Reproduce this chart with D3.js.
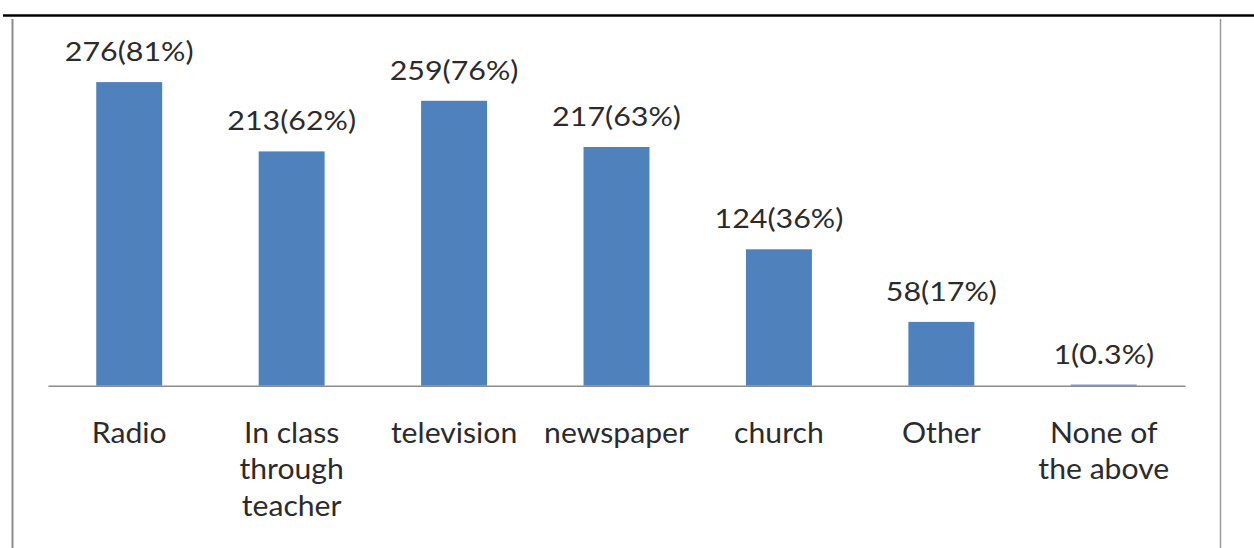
<!DOCTYPE html>
<html>
<head>
<meta charset="utf-8">
<script src="https://cdn.jsdelivr.net/npm/d3@7"></script>
<style>
  html, body { margin: 0; padding: 0; background: #fff; }
  svg { display: block; }
  text { font-family: Lato, "Open Sans", sans-serif; fill: #2b2b2b; }
</style>
</head>
<body>
<svg id="chart" width="1254" height="548"></svg>
<script>
// Sources of information reported by respondents
const categories = ["Radio", "In class\nthrough\nteacher", "television", "newspaper", "church", "Other", "None of\nthe above"];
const counts = [276, 213, 259, 217, 124, 58, 1];
const percents = [81, 62, 76, 63, 36, 17, 0.3];
const yDomain = [0, 300];

const svg = d3.select("#chart");
const W = 1254, H = 548;
const plot = { left: 48, right: 1185, top: 55.7, bottom: 385.7 };

// frame: heavy rule on top, thin grey rules at the sides
svg.append("line").attr("x1", 3).attr("x2", W).attr("y1", 15.5).attr("y2", 15.5)
  .attr("stroke", "#000").attr("stroke-width", 2.5);
svg.append("line").attr("x1", 12.5).attr("x2", 12.5).attr("y1", 19).attr("y2", H)
  .attr("stroke", "#8c8c8c").attr("stroke-width", 2);
svg.append("line").attr("x1", 1220.5).attr("x2", 1220.5).attr("y1", 19).attr("y2", H)
  .attr("stroke", "#9a9a9a").attr("stroke-width", 1.5);

const x = d3.scaleBand().domain(categories).range([plot.left, plot.right]).paddingInner(0.594).paddingOuter(0.297);
const y = d3.scaleLinear().domain(yDomain).range([plot.bottom, plot.top]);

const data = categories.map((c, i) => ({ cat: c, n: counts[i], pct: percents[i] }));

// bars
svg.append("g").selectAll("rect").data(data).join("rect")
  .attr("x", d => x(d.cat))
  .attr("width", x.bandwidth())
  .attr("y", d => y(d.n))
  .attr("height", d => y(0) - y(d.n))
  .attr("fill", "#4f81bd");

// value labels: count(percent%)
svg.append("g").selectAll("text").data(data).join("text")
  .attr("transform", d => `translate(${x(d.cat) + x.bandwidth() / 2},${y(d.n) - 21}) scale(1.17,1)`)
  .attr("text-anchor", "middle")
  .style("font-size", "26px")
  .text(d => `${d.n}(${d.pct}%)`);

// category axis along the baseline
const axis = svg.append("g")
  .attr("transform", `translate(0,${plot.bottom})`)
  .call(d3.axisBottom(x).tickSize(0).tickPadding(0));
axis.select(".domain").attr("stroke", "#8c8c8c").attr("stroke-width", 1.5);
axis.selectAll(".tick text").each(function (d) {
  const t = d3.select(this);
  t.text(null).attr("y", 0).attr("dy", null)
    .attr("fill", "#2b2b2b")
    .attr("transform", "scale(1.04,1)")
    .style("font-size", "29px")
    .style("font-family", "Lato, 'Open Sans', sans-serif");
  d.split("\n").forEach((line, k) => {
    t.append("tspan").attr("x", 0).attr("y", 57 + k * 36.5).text(line);
  });
});
</script>
</body>
</html>
